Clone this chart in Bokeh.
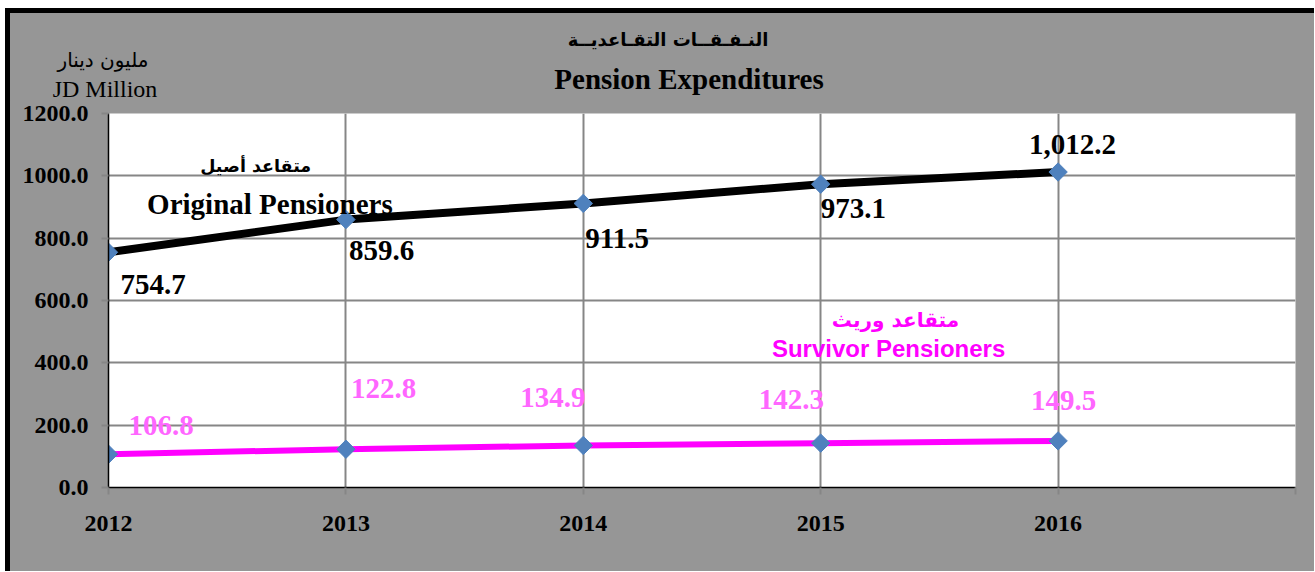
from bokeh.plotting import figure
from bokeh.layouts import column
from bokeh.models import ColumnDataSource, Label, FixedTicker, PrintfTickFormatter, Range1d, Div
from bokeh.core.properties import value
from bokeh.embed import file_html
from bokeh.resources import INLINE

# ---- data ----
years = [2012, 2013, 2014, 2015, 2016]
original = [754.7, 859.6, 911.5, 973.1, 1012.2]
survivor = [106.8, 122.8, 134.9, 142.3, 149.5]
original_labels = ["754.7", "859.6", "911.5", "973.1", "1,012.2"]
survivor_labels = ["106.8", "122.8", "134.9", "142.3", "149.5"]
x_ticks = [2012, 2013, 2014, 2015, 2016, 2017]
x_tick_labels = ["2012", "2013", "2014", "2015", "2016", ""]
y_ticks = [0, 200, 400, 600, 800, 1000, 1200]

title_ar = "النـفـقــات التقـاعديــة"
title_en = "Pension Expenditures"
unit_ar = "مليون دينار"
unit_en = "JD Million"
orig_name_ar = "متقاعد أصيل"
orig_name_en = "Original Pensioners"
surv_name_ar = "متقاعد وريث"
surv_name_en = "Survivor Pensioners"

# ---- style (label offsets in screen px) ----
orig_dx = [12, 3, 2, 0, -29]
orig_dy = [32, 31, 35, 24, -28]
surv_dx = [20, 5, -63, -62, -27]
surv_dy = [-29, -61, -48, -44, -40]

SERIF = "Liberation Serif"
ARABIC = "DejaVu Sans"
BG = "#969696"
GRID = "#868686"
W = 1304
HEAD_H = 87

# ---- header (titles + unit) ----
def box(text, cx, cy, w, fs, lh, font, bold):
    return (f'<div style="position:absolute;left:{cx - w / 2}px;top:{cy - lh / 2}px;width:{w}px;'
            f'height:{lh}px;line-height:{lh}px;text-align:center;font-family:\'{font}\';'
            f'font-size:{fs}px;font-weight:{"bold" if bold else "normal"};color:black;'
            f'white-space:nowrap;">{text}</div>')

header_html = (f'<div style="position:relative;width:{W}px;height:{HEAD_H}px;overflow:visible;">'
               + box(title_ar, 658, 27, 600, 18, 26, ARABIC, True)
               + box(title_en, 679, 66, 600, 29, 32, SERIF, True)
               + box(unit_ar, 93, 47, 180, 20, 24, ARABIC, False)
               + box(unit_en, 95, 76, 180, 24, 26, SERIF, False)
               + '</div>')
header = Div(text=header_html, width=W, height=HEAD_H, margin=(0, 0, 0, 0),
             styles={"background-color": BG})

# ---- chart ----
fig = figure(width=W, height=471, output_backend="svg", toolbar_location=None,
             x_range=Range1d(2012, 2017), y_range=Range1d(0, 1200),
             min_border_left=98, min_border_right=19, min_border_top=13, min_border_bottom=84,
             margin=(0, 0, 0, 0))
fig.border_fill_color = BG
fig.background_fill_color = "white"
fig.outline_line_color = None

for ax in (fig.xaxis, fig.yaxis):
    ax.axis_line_color = "black"
    ax.axis_line_width = 1.5
    ax.major_tick_line_color = GRID
    ax.major_tick_line_width = 2
    ax.major_tick_out = 7
    ax.major_tick_in = 0
    ax.minor_tick_line_color = None
    ax.major_label_text_font = SERIF
    ax.major_label_text_font_style = "bold"
    ax.major_label_text_font_size = "24px"
    ax.major_label_text_color = "black"

fig.xaxis.ticker = FixedTicker(ticks=x_ticks)
fig.xaxis.major_label_overrides = {t: l for t, l in zip(x_ticks, x_tick_labels)}
fig.xaxis.major_label_standoff = 21
fig.yaxis.ticker = FixedTicker(ticks=y_ticks)
fig.yaxis.formatter = PrintfTickFormatter(format="%.1f")
fig.yaxis.major_label_standoff = 13

fig.xgrid.ticker = FixedTicker(ticks=x_ticks)
fig.ygrid.ticker = FixedTicker(ticks=y_ticks)
for g in (fig.xgrid, fig.ygrid):
    g.grid_line_color = GRID
    g.grid_line_width = 2

src_o = ColumnDataSource(dict(x=years, y=original, t=original_labels, dx=orig_dx, dy=orig_dy))
src_s = ColumnDataSource(dict(x=years, y=survivor, t=survivor_labels, dx=surv_dx, dy=surv_dy))

fig.line("x", "y", source=src_o, line_color="black", line_width=8)
fig.line("x", "y", source=src_s, line_color="#FF00FF", line_width=6)
for src in (src_o, src_s):
    fig.scatter("x", "y", source=src, marker="square", angle=0.785398, size=13,
                fill_color="#4F81BD", line_color="#4F81BD")

fig.text("x", "y", text="t", source=src_o, x_offset="dx", y_offset="dy",
         text_font=value(SERIF), text_font_style="bold", text_font_size="29px",
         text_color="black", text_align="left", text_baseline="middle")
fig.text("x", "y", text="t", source=src_s, x_offset="dx", y_offset="dy",
         text_font=value(SERIF), text_font_style="bold", text_font_size="29px",
         text_color="#FF66FF", text_align="left", text_baseline="middle")

fig.add_layout(Label(x=2012.62, y=1033, text=orig_name_ar, text_font=ARABIC, text_font_style="bold",
                     text_font_size="17.5px", text_color="black", text_align="center", text_baseline="middle"))
fig.add_layout(Label(x=2012.68, y=911, text=orig_name_en, text_font=SERIF, text_font_style="bold",
                     text_font_size="29px", text_color="black", text_align="center", text_baseline="middle"))
fig.add_layout(Label(x=2015.315, y=536, text=surv_name_ar, text_font=ARABIC, text_font_style="bold",
                     text_font_size="20px", text_color="#FF00FF", text_align="center", text_baseline="middle"))
fig.add_layout(Label(x=2015.286, y=446, text=surv_name_en, text_font="Liberation Sans", text_font_style="bold",
                     text_font_size="24px", text_color="#FF00FF", text_align="center", text_baseline="middle"))

p = column(header, fig, spacing=0, margin=(8, 0, 0, 5),
           styles={"border-left": "5px solid black", "border-top": "5px solid black",
                   "background-color": BG})

open("out.html", "w").write(file_html(p, INLINE))
